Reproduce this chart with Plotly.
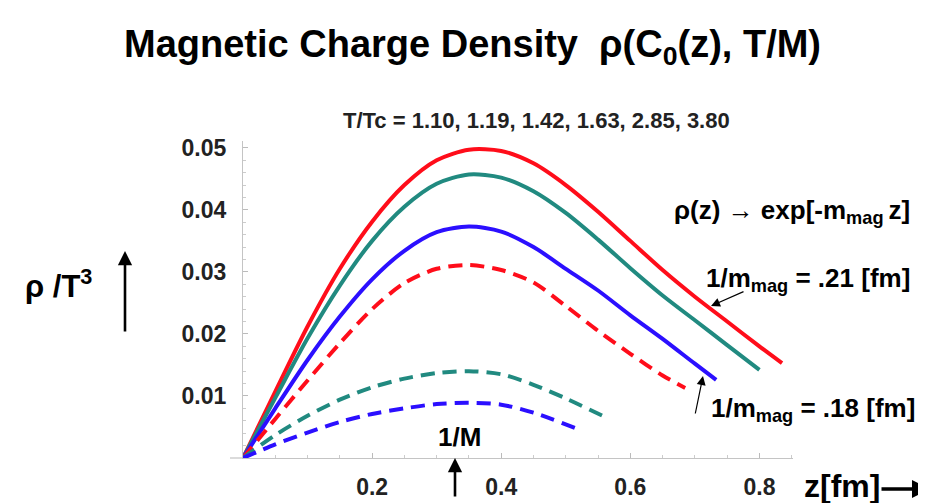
import plotly.graph_objects as go

# ---- data ----
z_red = [0, 0.05, 0.1, 0.15, 0.2, 0.25, 0.3, 0.35, 0.4, 0.45, 0.5, 0.55, 0.6, 0.65, 0.7, 0.75, 0.8, 0.835]
rho_red = [0, 0.0107, 0.0212, 0.0305, 0.0381, 0.0440, 0.0480, 0.0497, 0.0495, 0.0475, 0.0440, 0.0397,
           0.0350, 0.0303, 0.0260, 0.0220, 0.0180, 0.0153]

z_teal = [0, 0.05, 0.1, 0.15, 0.2, 0.25, 0.3, 0.35, 0.4, 0.45, 0.5, 0.55, 0.6, 0.65, 0.7, 0.75, 0.8]
rho_teal = [0, 0.0097, 0.0193, 0.0278, 0.0350, 0.0405, 0.0442, 0.0457, 0.0452, 0.0430, 0.0395, 0.0352,
            0.0306, 0.0262, 0.0222, 0.0182, 0.0142]

z_blue = [0, 0.05, 0.1, 0.15, 0.2, 0.25, 0.3, 0.35, 0.4, 0.45, 0.5, 0.55, 0.6, 0.65, 0.7, 0.733]
rho_blue = [0, 0.0080, 0.0158, 0.0228, 0.0288, 0.0334, 0.0364, 0.0373, 0.0365, 0.0340, 0.0305, 0.0270,
            0.0230, 0.0192, 0.0152, 0.0126]

z_red_d = [0, 0.05, 0.1, 0.15, 0.2, 0.25, 0.3, 0.35, 0.4, 0.45, 0.5, 0.55, 0.6, 0.65, 0.685]
rho_red_d = [0, 0.0063, 0.0125, 0.0185, 0.0240, 0.0282, 0.0305, 0.0311, 0.0303, 0.0283, 0.0245, 0.0205,
             0.0168, 0.0133, 0.0113]

z_teal_d = [0, 0.05, 0.1, 0.15, 0.2, 0.25, 0.3, 0.35, 0.4, 0.45, 0.5, 0.557]
rho_teal_d = [0, 0.0037, 0.0068, 0.0094, 0.0114, 0.0128, 0.0137, 0.0140, 0.0135, 0.0118, 0.0096, 0.0068]

z_blue_d = [0, 0.05, 0.1, 0.15, 0.2, 0.25, 0.3, 0.35, 0.4, 0.45, 0.515]
rho_blue_d = [0, 0.0022, 0.0041, 0.0058, 0.0071, 0.0080, 0.0087, 0.0089, 0.0086, 0.0073, 0.0048]

x_tickvals = [0.2, 0.4, 0.6, 0.8]
x_ticktext = ["0.2", "0.4", "0.6", "0.8"]
y_tickvals = [0.01, 0.02, 0.03, 0.04, 0.05]
y_ticktext = ["0.01", "0.02", "0.03", "0.04", "0.05"]

RED = "#ff0d1a"
TEAL = "#218a80"
BLUE = "#2b0fff"
FONT = "Liberation Sans, Arial, sans-serif"

series = [
    (z_red, rho_red, RED, "solid"),
    (z_teal, rho_teal, TEAL, "solid"),
    (z_blue, rho_blue, BLUE, "solid"),
    (z_red_d, rho_red_d, RED, "14px,8px"),
    (z_teal_d, rho_teal_d, TEAL, "14px,8px"),
    (z_blue_d, rho_blue_d, BLUE, "14px,8px"),
]

fig = go.Figure()
for zs, rs, col, dash in series:
    fig.add_trace(go.Scatter(x=zs, y=rs, mode="lines",
                             line=dict(color=col, width=4, dash=dash, shape="spline", smoothing=0.8),
                             showlegend=False, hoverinfo="skip"))

# plot-area geometry (px): left 235, right 785, top 133, bottom 450
W, H = 926, 503
L, R, T, B = 235, 785, 133, 450
pw, ph = R - L, B - T

def px(x):
    return (x - L) / pw

def py(y):
    return (B - y) / ph

fig.update_layout(
    width=W, height=H,
    margin=dict(l=L, r=W - R, t=T, b=H - B, pad=0),
    paper_bgcolor="white", plot_bgcolor="white",
    font=dict(family=FONT, color="#111"),
    xaxis=dict(range=[0, 0.852], showgrid=False, zeroline=False,
               showline=True, linecolor="#c4c4c4", linewidth=1.2,
               tickvals=x_tickvals, ticktext=x_ticktext,
               ticks="inside", ticklen=5, tickcolor="#bbbbbb", tickwidth=1,
               minor=dict(dtick=0.05, ticks="inside", ticklen=3, tickcolor="#cccccc"),
               tickfont=dict(family=FONT, size=23, color="#222", weight="bold"),
               ticklabelstandoff=8),
    yaxis=dict(range=[0, 0.0511], showgrid=False, zeroline=False,
               showline=True, linecolor="#c4c4c4", linewidth=1.2,
               tickvals=y_tickvals, ticktext=y_ticktext,
               ticks="inside", ticklen=5, tickcolor="#bbbbbb", tickwidth=1,
               minor=dict(dtick=0.002, ticks="inside", ticklen=3, tickcolor="#cccccc"),
               tickfont=dict(family=FONT, size=23, color="#222", weight="bold"),
               ticklabelstandoff=11),
)

# x-axis line extension left of origin
fig.add_shape(type="line", xref="paper", yref="paper", x0=px(222), x1=0, y0=0, y1=0,
              line=dict(color="#c4c4c4", width=1.2))

ann = []
# title
ann.append(dict(text="Magnetic Charge Density  ρ(C<sub>0</sub>(z), T/M)", x=px(464), y=py(39),
                font=dict(size=38, color="#000", weight="bold")))
# subtitle
ann.append(dict(text="T/Tc = 1.10, 1.19, 1.42, 1.63, 2.85, 3.80", x=px(528), y=py(113),
                font=dict(size=22, color="#222", weight="bold")))
# y label
ann.append(dict(text="ρ /T<sup>3</sup>", x=px(50), y=py(276),
                font=dict(size=31, color="#000", weight="bold")))
# x label
ann.append(dict(text="z[fm]", x=px(834), y=py(478),
                font=dict(size=32, color="#000", weight="bold")))
# 1/M
ann.append(dict(text="1/M", x=px(451), y=py(429),
                font=dict(size=26, color="#000", weight="bold")))
# formula
ann.append(dict(text="ρ(z) → exp[-m<sub>mag </sub>z]", x=px(904), y=py(203), xanchor="right",
                font=dict(size=26, color="#000", weight="bold")))
ann.append(dict(text="1/m<sub>mag</sub> = .21 [fm]", x=px(904), y=py(271), xanchor="right",
                font=dict(size=26, color="#000", weight="bold")))
ann.append(dict(text="1/m<sub>mag</sub> = .18 [fm]", x=px(909), y=py(401), xanchor="right",
                font=dict(size=26, color="#000", weight="bold")))
for a in ann:
    a.setdefault("xanchor", "center")
    a.update(xref="paper", yref="paper", yanchor="middle", showarrow=False)
    fig.add_annotation(**a)

# arrows
arrows = [
    # tip(x,y), tail offset (ax, ay), width, head, headsize
    ((117, 243), (0, 82), 2.6, 2, 1.1),
    ((447, 450), (0, 40), 2.6, 2, 1.1),
    ((922, 481), (-50, 0), 3.6, 2, 1.0),
    ((703, 298), (34, -15), 1.2, 2, 1.5),
    ((695, 368), (-8, 39), 1.2, 2, 1.5),
]
for (tx, ty), (ax, ay), w, head, hs in arrows:
    fig.add_annotation(x=px(tx), y=py(ty), xref="paper", yref="paper", text="",
                       showarrow=True, ax=ax, ay=ay, axref="pixel", ayref="pixel",
                       arrowhead=head, arrowsize=hs, arrowwidth=w, arrowcolor="#000")

fig.write_html("out.html")
